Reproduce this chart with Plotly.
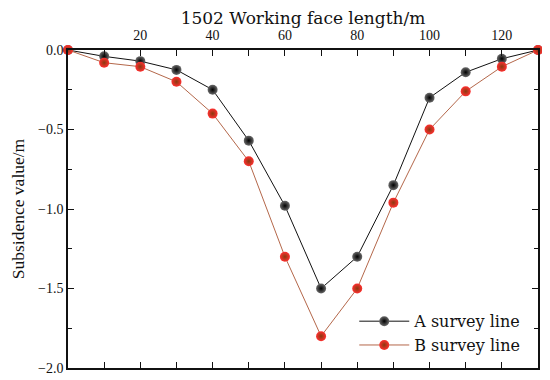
import plotly.graph_objects as go

positions = [0, 10, 20, 30, 40, 50, 60, 70, 80, 90, 100, 110, 120, 130]
line_a = [0.0, -0.04, -0.07, -0.125, -0.25, -0.57, -0.98, -1.50, -1.30, -0.85, -0.30, -0.14, -0.055, 0.0]
line_b = [0.0, -0.08, -0.105, -0.20, -0.40, -0.70, -1.30, -1.80, -1.50, -0.96, -0.50, -0.26, -0.105, 0.0]
x_ticks = [20, 40, 60, 80, 100, 120]
y_ticks = [0.0, -0.5, -1.0, -1.5, -2.0]

SERIF = "Liberation Serif, serif"
WIDE = "DejaVu Serif, serif"

fig = go.Figure()
fig.add_trace(go.Scatter(
    x=positions, y=line_a, name="A survey line", mode="lines+markers",
    line=dict(color="#111111", width=1),
    marker=dict(size=10, color="#6a6a6a", gradient=dict(type="radial", color="#000000"),
                line=dict(width=0)),
    cliponaxis=False,
))
fig.add_trace(go.Scatter(
    x=positions, y=line_b, name="B survey line", mode="lines+markers",
    line=dict(color="#b4674a", width=1),
    marker=dict(size=10, color="#ff3030", gradient=dict(type="radial", color="#8a3a10"),
                line=dict(width=0)),
    cliponaxis=False,
))

fig.update_layout(
    width=542, height=372,
    margin=dict(l=60, r=12, t=42, b=12),
    paper_bgcolor="white", plot_bgcolor="white",
    font=dict(family=SERIF, size=14, color="#111111"),
    showlegend=True,
    legend=dict(x=0.975, y=0.018, xanchor="right", yanchor="bottom",
                bgcolor="rgba(0,0,0,0)", font=dict(size=16, family=WIDE),
                itemwidth=50, tracegroupgap=0),
    xaxis=dict(
        side="top", range=[0, 130], tickvals=x_ticks, automargin=False,
        ticks="inside", ticklen=6, tickwidth=1.2, tickcolor="#111",
        minor=dict(dtick=10, ticks="inside", ticklen=6, tickcolor="#111"),
        showline=True, linecolor="#111", linewidth=1.5, mirror="ticks",
        showgrid=False, zeroline=False,
        ticklabelstandoff=3,
        title=dict(text="1502 Working face length/m", font=dict(size=17, family=WIDE), standoff=2),
        tickfont=dict(size=14, family=SERIF),
    ),
    yaxis=dict(
        range=[-2.0, 0.0], tickvals=y_ticks, tickformat=".1f", automargin=False,
        ticks="inside", ticklen=6, tickwidth=1.2, tickcolor="#111",
        minor=dict(dtick=0.25, ticks="inside", ticklen=4, tickcolor="#111"),
        showline=True, linecolor="#111", linewidth=1.5, mirror="ticks",
        showgrid=False, zeroline=False,
        ticklabelstandoff=0,
        title=dict(text="Subsidence value/m", font=dict(size=17.5, family=SERIF), standoff=15),
        tickfont=dict(size=14, family=SERIF),
    ),
)

fig.write_html("out.html")
